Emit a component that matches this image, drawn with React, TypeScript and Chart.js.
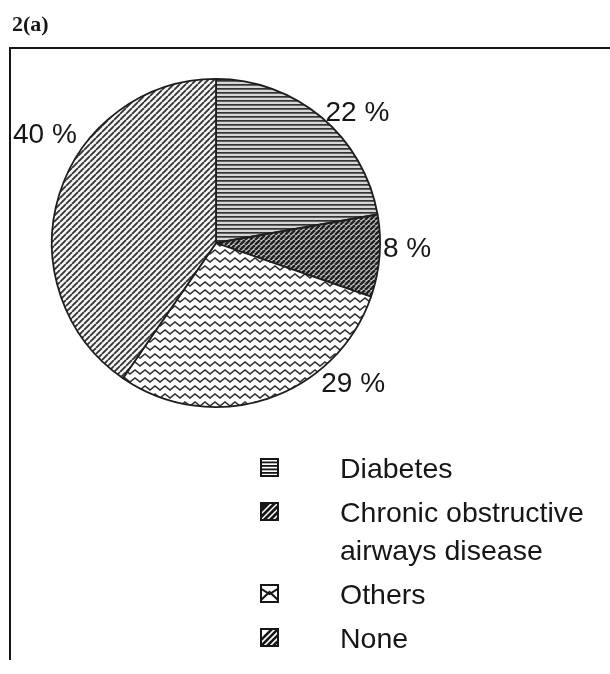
import React, { useEffect, useRef } from "react";
import { Chart, registerables } from "chart.js";

Chart.register(...registerables);

const title = "2(a)";
const categories = ["Diabetes", "Chronic obstructive\nairways disease", "Others", "None"];
const percentValues = [22, 8, 29, 40];
const percentLabels = ["22 %", "8 %", "29 %", "40 %"];

// label placement around the pie: angle (deg, clockwise from 12 o'clock) and radius factor
const labelAngles = [46.9, 91.2, 135.4, 302.8];
const labelRadiusFactors = [1.18, 1.165, 1.19, 1.24];

const FONT = '"Liberation Sans", Arial, Helvetica, sans-serif';
const INK = "#161616";

function makeTile(w: number, h: number, draw: (c: CanvasRenderingContext2D) => void) {
  const cv = document.createElement("canvas");
  cv.width = w;
  cv.height = h;
  const c = cv.getContext("2d")!;
  draw(c);
  return cv;
}

function diagTile(s: number, lw: number, color: string, bg: string) {
  return makeTile(s, s, (c) => {
    c.fillStyle = bg;
    c.fillRect(0, 0, s, s);
    c.strokeStyle = color;
    c.lineWidth = lw;
    c.beginPath();
    for (let k = -1; k <= 1; k++) {
      c.moveTo(k * s, s);
      c.lineTo(k * s + s, 0);
    }
    c.stroke();
  });
}

function buildPatterns(ctx: CanvasRenderingContext2D) {
  const diabetes = makeTile(4, 4, (c) => {
    c.fillStyle = "#d6d6d6";
    c.fillRect(0, 0, 4, 4);
    c.fillStyle = "#333333";
    c.fillRect(0, 0, 4, 1.7);
  });
  const coad = diagTile(5, 2.5, "#222222", "#c8c8c8");
  const others = makeTile(10, 8, (c) => {
    c.fillStyle = "#ffffff";
    c.fillRect(0, 0, 10, 8);
    c.strokeStyle = "#303030";
    c.lineWidth = 1.6;
    c.beginPath();
    c.moveTo(-5, 2);
    c.lineTo(0, 6);
    c.lineTo(5, 2);
    c.lineTo(10, 6);
    c.lineTo(15, 2);
    c.stroke();
  });
  const none = diagTile(6, 1.8, "#333333", "#f4f4f4");
  return [diabetes, coad, others, none].map((t) => ctx.createPattern(t, "repeat")!);
}

function drawLegendIcon(c: CanvasRenderingContext2D, idx: number, x: number, y: number, s: number) {
  c.save();
  c.beginPath();
  c.rect(x, y, s, s);
  c.clip();
  c.fillStyle = "#fff";
  c.fillRect(x, y, s, s);
  c.strokeStyle = INK;
  c.fillStyle = INK;
  if (idx === 0) {
    for (let yy = y; yy < y + s; yy += 3.5) c.fillRect(x, yy, s, 1.8);
  } else if (idx === 1) {
    c.fillRect(x, y, s, s);
    c.strokeStyle = "#fff";
    c.lineWidth = 1.5;
    c.beginPath();
    for (let k = -1; k <= 2; k++) {
      c.moveTo(x + k * 6, y + s);
      c.lineTo(x + k * 6 + s, y);
    }
    c.stroke();
  } else if (idx === 2) {
    c.lineWidth = 2;
    c.beginPath();
    c.moveTo(x, y + 4);
    c.lineTo(x + s / 2, y + 10);
    c.lineTo(x + s, y + 4);
    c.moveTo(x, y + s - 2);
    c.lineTo(x + s / 2, y + 8);
    c.lineTo(x + s, y + s - 2);
    c.stroke();
  } else {
    c.lineWidth = 2.6;
    c.beginPath();
    for (let k = -1; k <= 2; k++) {
      c.moveTo(x + k * 6, y + s);
      c.lineTo(x + k * 6 + s, y);
    }
    c.stroke();
  }
  c.restore();
  c.strokeStyle = INK;
  c.lineWidth = 2;
  c.strokeRect(x + 1, y + 1, s - 2, s - 2);
}

const decorPlugin = {
  id: "decor",
  beforeDraw(chart: any) {
    const c: CanvasRenderingContext2D = chart.ctx;
    c.save();
    c.fillStyle = "#fff";
    c.fillRect(0, 0, chart.width, chart.height);
    // title
    c.fillStyle = INK;
    c.font = 'bold 22px "Liberation Serif", "Times New Roman", serif';
    c.textBaseline = "alphabetic";
    c.textAlign = "left";
    c.fillText(title, 12, 31);
    // frame
    c.strokeStyle = INK;
    c.lineWidth = 2;
    c.beginPath();
    c.moveTo(9, 48);
    c.lineTo(chart.width, 48);
    c.moveTo(10, 47);
    c.lineTo(10, 660);
    c.stroke();
    c.restore();
  },
  afterDraw(chart: any) {
    const c: CanvasRenderingContext2D = chart.ctx;
    const meta = chart.getDatasetMeta(0);
    const arc0 = meta.data[0];
    const cx = arc0.x;
    const cy = arc0.y;
    const r = arc0.outerRadius;
    c.save();
    c.fillStyle = INK;
    c.font = `28px ${FONT}`;
    c.textAlign = "center";
    c.textBaseline = "alphabetic";
    percentLabels.forEach((lab, i) => {
      const a = (labelAngles[i] * Math.PI) / 180;
      const rr = r * labelRadiusFactors[i];
      const x = cx + rr * Math.sin(a);
      const y = cy - rr * Math.cos(a);
      c.fillText(lab, x, y + 10);
    });
    // legend
    c.font = `28.5px ${FONT}`;
    const iconX = 260;
    const textX = 340;
    const lineGap = 38;
    const itemGap = 44;
    let baseY = 478;
    c.textAlign = "left";
    categories.forEach((cat, i) => {
      const lines = cat.split("\n");
      drawLegendIcon(c, i, iconX, baseY - 20, 19);
      c.fillStyle = INK;
      lines.forEach((ln, j) => c.fillText(ln, textX, baseY + j * lineGap));
      baseY += (lines.length - 1) * lineGap + itemGap;
    });
    c.restore();
  },
};

export default function App() {
  const ref = useRef<HTMLCanvasElement>(null);
  useEffect(() => {
    const canvas = ref.current!;
    const ctx = canvas.getContext("2d")!;
    const patterns = buildPatterns(ctx);
    const chart = new Chart(canvas, {
      type: "pie",
      data: {
        labels: categories,
        datasets: [
          {
            data: percentValues,
            backgroundColor: patterns as any,
            borderColor: "#1e1e1e",
            borderWidth: 1.8,
            hoverOffset: 0,
          },
        ],
      },
      options: {
        responsive: false,
        animation: false,
        events: [],
        layout: { padding: { left: 51, right: 229, top: 78, bottom: 266 } },
        plugins: { legend: { display: false }, tooltip: { enabled: false } },
      },
      plugins: [decorPlugin],
    });
    return () => chart.destroy();
  }, []);
  return (
    <div style={{ position: "fixed", left: 0, top: 0, width: 610, height: 674, background: "#fff" }}>
      <canvas ref={ref} width={610} height={674} style={{ display: "block", width: 610, height: 674 }} />
    </div>
  );
}
